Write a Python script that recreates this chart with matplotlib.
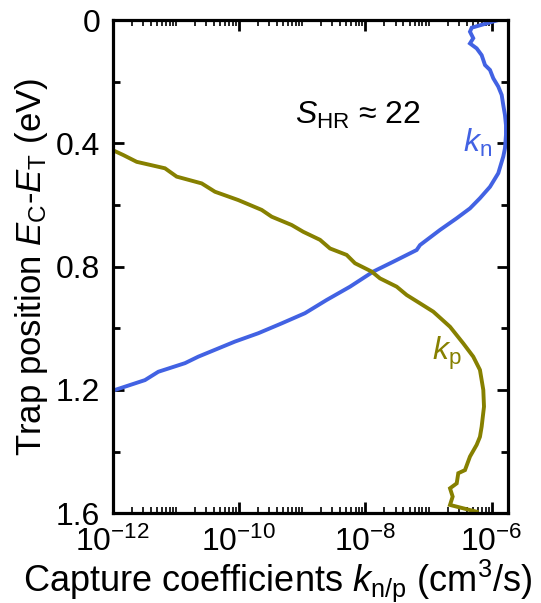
import numpy as np
import matplotlib
matplotlib.use("Agg")
import matplotlib.pyplot as plt
from matplotlib.ticker import LogLocator, FixedLocator, MultipleLocator, NullFormatter

plt.rcParams['font.family'] = ['Liberation Sans', 'DejaVu Sans']
plt.rcParams['mathtext.fontset'] = 'custom'
plt.rcParams['mathtext.rm'] = 'Liberation Sans'
plt.rcParams['mathtext.it'] = 'Liberation Sans:italic'
plt.rcParams['mathtext.bf'] = 'Liberation Sans:bold'

# ---- data (log10 of capture coefficient, trap energy in eV) ----
kn_log = [-5.896, -6.317, -6.344, -6.292, -6.344, -6.238, -6.159, -6.106, -6.027,
          -5.975, -5.896, -5.842, -5.817, -5.790, -5.774, -5.774, -5.790, -5.817,
          -5.896, -6.027, -6.186, -6.344, -6.554, -6.819, -7.135, -7.188, -7.558,
          -7.875, -8.243, -8.612, -8.956, -9.325, -9.695, -10.064, -10.645, -10.855,
          -11.278, -11.489, -11.964, -12.0]
kn_E = [0.000, 0.025, 0.038, 0.059, 0.076, 0.092, 0.114, 0.146, 0.162,
        0.189, 0.216, 0.243, 0.276, 0.308, 0.341, 0.373, 0.416, 0.443,
        0.497, 0.541, 0.578, 0.611, 0.643, 0.681, 0.730, 0.746, 0.784,
        0.816, 0.865, 0.908, 0.951, 0.984, 1.016, 1.043, 1.092, 1.113,
        1.141, 1.168, 1.200, 1.201]

kp_log = [-12.0, -11.832, -11.620, -11.172, -10.987, -10.591, -10.381, -10.012, -9.641,
          -9.483, -9.166, -8.983, -8.718, -8.560, -8.296, -8.164, -7.900, -7.769,
          -7.504, -7.346, -7.135, -6.925, -6.660, -6.450, -6.292, -6.186, -6.133,
          -6.122, -6.159, -6.186, -6.238, -6.344, -6.423, -6.529, -6.554, -6.660,
          -6.618, -6.660, -6.238]
kp_E = [0.422, 0.438, 0.460, 0.481, 0.508, 0.530, 0.557, 0.584, 0.616,
        0.638, 0.665, 0.687, 0.713, 0.741, 0.762, 0.789, 0.816, 0.838,
        0.865, 0.892, 0.919, 0.946, 0.995, 1.049, 1.092, 1.135, 1.200,
        1.254, 1.319, 1.352, 1.378, 1.416, 1.460, 1.470, 1.503, 1.519,
        1.546, 1.573, 1.595]

ytick_vals = [0, 0.4, 0.8, 1.2, 1.6]
ytick_labels = ['0', '0.4', '0.8', '1.2', '1.6']
xtick_vals = [1e-12, 1e-10, 1e-8, 1e-6]
xtick_labels = ['$10^{-12}$', '$10^{-10}$', '$10^{-8}$', '$10^{-6}$']

blue = '#4262E3'
olive = '#868000'

fig = plt.figure(figsize=(5.41, 6.03), dpi=100)
ax = fig.add_axes([0.2083, 0.1488, 0.939 - 0.2083, 0.9668 - 0.1488])

ax.plot(10.0 ** np.array(kn_log), kn_E, color=blue, lw=2.8, solid_joinstyle='miter')
ax.plot(10.0 ** np.array(kp_log), kp_E, color=olive, lw=2.8, solid_joinstyle='miter')

ax.set_xscale('log')
ax.set_xlim(1e-12, 10 ** -5.742)
ax.set_ylim(1.6, 0)

ax.xaxis.set_major_locator(FixedLocator(xtick_vals))
ax.set_xticklabels(xtick_labels)
ax.xaxis.set_minor_locator(LogLocator(base=10, subs=np.arange(1, 10), numticks=50))
ax.xaxis.set_minor_formatter(NullFormatter())
ax.set_yticks(ytick_vals)
ax.set_yticklabels(ytick_labels)
ax.yaxis.set_minor_locator(MultipleLocator(0.2))

ax.tick_params(which='both', direction='in', top=True, right=True, width=2.0,
               labelsize=23)
ax.tick_params(which='major', length=8)
ax.tick_params(axis='x', which='major', pad=10)
ax.tick_params(axis='y', which='major', pad=9)
ax.tick_params(which='minor', length=5)
ax.tick_params(axis='x', which='minor', length=4, width=1.2)
for s in ax.spines.values():
    s.set_linewidth(2.3)

ax.set_xlabel('Capture coefficients $k_\\mathrm{n/p}$ (cm$^3$/s)', fontsize=26, labelpad=0)
ax.xaxis.set_label_coords(0.418, -0.089)
ax.set_ylabel('Trap position $E_\\mathrm{C}$-$E_\\mathrm{T}$ (eV)', fontsize=25, labelpad=4)

ax.text(0.461, 0.807, '$S_\\mathrm{HR}$ \u2248 22', transform=ax.transAxes,
        fontsize=23, ha='left', va='center')
ax.text(3.5e-7, 0.40, '$k_\\mathrm{n}$', color=blue, fontsize=23, ha='left', va='center')
ax.text(1.13e-7, 1.08, '$k_\\mathrm{p}$', color=olive, fontsize=23, ha='left', va='center')

fig.savefig('out.png', dpi=100)
